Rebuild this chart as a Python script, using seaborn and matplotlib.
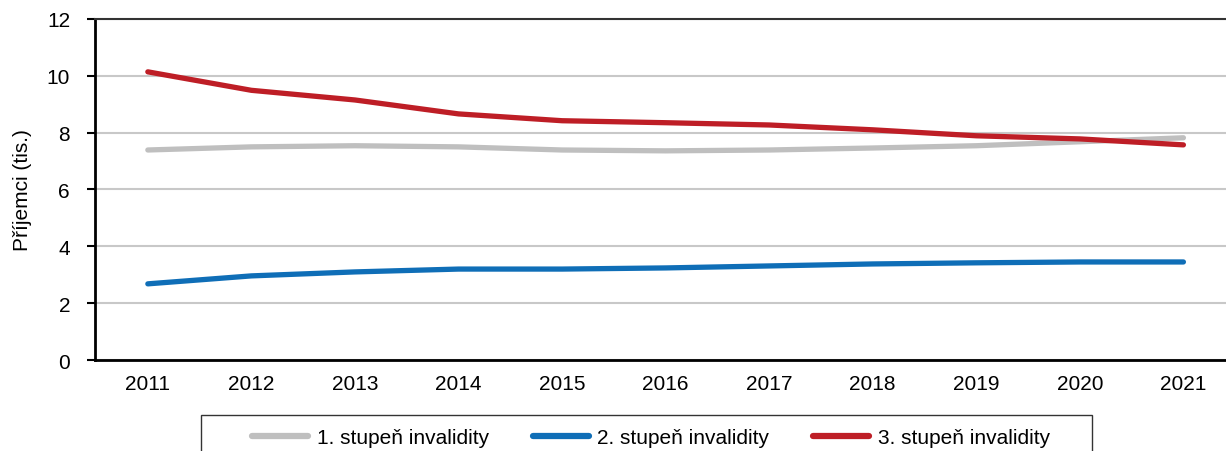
import numpy as np
import pandas as pd
import matplotlib
matplotlib.use('Agg')
import matplotlib.pyplot as plt
from matplotlib.patches import Rectangle
import seaborn as sns

years = ['2011', '2012', '2013', '2014', '2015', '2016', '2017', '2018', '2019', '2020', '2021']
stupen1 = [7.39, 7.50, 7.54, 7.50, 7.39, 7.36, 7.39, 7.46, 7.54, 7.68, 7.82]
stupen2 = [2.68, 2.96, 3.10, 3.20, 3.20, 3.24, 3.31, 3.38, 3.42, 3.45, 3.45]
stupen3 = [10.14, 9.49, 9.15, 8.66, 8.42, 8.35, 8.27, 8.10, 7.89, 7.78, 7.57]
series_names = ['1. stupeň invalidity', '2. stupeň invalidity', '3. stupeň invalidity']
colors = ['#bfbfbf', '#0f6eb7', '#be1e26']

sns.set_style('white')
plt.rcParams['font.family'] = ['Liberation Sans', 'DejaVu Sans']
plt.rcParams['text.color'] = 'black'
plt.rcParams['axes.labelcolor'] = 'black'
plt.rcParams['xtick.color'] = 'black'
plt.rcParams['ytick.color'] = 'black'

df = pd.DataFrame({'idx': list(range(len(years))) * 3,
                   'value': stupen1 + stupen2 + stupen3,
                   'series': np.repeat(series_names, len(years))})

fig = plt.figure(figsize=(12.26, 4.52), dpi=100)
ax = fig.add_axes([0.0775, 0.2013, 0.93, 0.7545])

ax.yaxis.grid(True, color='#c8c8c8', linewidth=1.5)
ax.set_axisbelow(True)
sns.lineplot(data=df, x='idx', y='value', hue='series', palette=colors,
             linewidth=3.8, ax=ax, legend=True, solid_capstyle='round')

ax.set_ylim(0, 12)
ax.set_yticks(range(0, 13, 2))
ax.set_xlim(-0.51, 10.4)
ax.set_xticks(range(len(years)))
ax.set_xticklabels(years)
ax.set_xticks(np.arange(-0.5, 10.6, 1), minor=True)
ax.tick_params(axis='x', which='major', length=0, pad=10, labelsize=15)
ax.tick_params(axis='x', which='minor', length=6, width=1.5, direction='out', color='black')
ax.tick_params(axis='y', length=6, width=1.5, direction='out', color='black', labelsize=15, left=True, pad=12)
ax.set_xlabel('')
ax.set_ylabel('Příjemci (tis.)', fontsize=15)
ax.yaxis.set_label_coords(-0.055, 0.5)

ax.spines['right'].set_visible(False)
ax.spines['top'].set_color('#333333')
ax.spines['top'].set_linewidth(1.5)
for s in ['left', 'bottom']:
    ax.spines[s].set_color('black')
    ax.spines[s].set_linewidth(2)

# legend box runs off the bottom edge in the original
leg = ax.legend(loc='center', bbox_to_anchor=(651 / 1226, 13 / 452),
                bbox_transform=fig.transFigure, ncol=3, frameon=False,
                fontsize=15, handlelength=2.7, columnspacing=2.1,
                borderpad=0, handletextpad=0.4, borderaxespad=0)
for line in leg.get_lines():
    line.set_linewidth(4.5)
fig.patches.append(Rectangle((201 / 1226, -0.05), 891 / 1226, 36 / 452 + 0.05,
                             transform=fig.transFigure, fill=False,
                             edgecolor='#333333', linewidth=1))

fig.savefig('out.png', dpi=100)
